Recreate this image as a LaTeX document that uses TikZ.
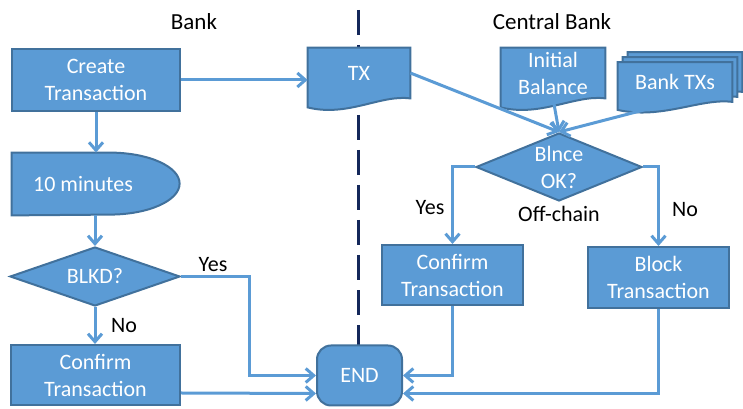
\documentclass[tikz,border=0pt]{standalone}
\usepackage{fontspec}
\setmainfont{Carlito}
\usetikzlibrary{positioning, arrows.meta, shapes.geometric, calc}
\pgfdeclarelayer{background}
\pgfsetlayers{background,main}
\definecolor{boxblue}{HTML}{5B9BD5}
\definecolor{boxedge}{HTML}{41719C}
\definecolor{navyline}{HTML}{14285A}

\begin{document}
\begin{tikzpicture}[
  x=0.5bp, y=-0.5bp,
  every node/.style={font=\fontsize{11bp}{13.5bp}\selectfont},
  proc/.style={draw=boxedge, fill=boxblue, line width=1bp, text=white, align=center, inner sep=0pt},
  decision/.style={diamond, draw=boxedge, fill=boxblue, line width=1bp, text=white, align=center, inner sep=0pt},
  term/.style={proc, rounded corners=7bp},
  doc/.style={text=white, align=center, inner sep=0pt},
  docline/.style={draw=boxedge, fill=boxblue, line width=1bp},
  flow/.style={-{Straight Barb[length=4bp, width=7bp]}, draw=boxblue, line width=1.5bp},
  lbl/.style={text=black, inner sep=1bp},
  divider/.style={draw=navyline, line width=1.5bp, dash pattern=on 12.5bp off 5bp}
]
\useasboundingbox (0,0) rectangle (743,409);

% Headers
\node[lbl, font=\fontsize{11.5bp}{14bp}\selectfont] (bankhead) at (194,22) {Bank};
\node[lbl, font=\fontsize{11.5bp}{14bp}\selectfont] (cbhead) at (552,22) {Central Bank};
\coordinate (divtop) at (358,10);
\coordinate (divbot) at (358,345);

% Bank nodes
\node[proc, minimum width=84bp, minimum height=31bp] (create) at (96,80) {Create\\Transaction};
\node[doc, minimum width=71bp, minimum height=31bp] (wait) at (83,184) {10 minutes};
\node[decision, aspect=2.9, minimum width=85bp, minimum height=29.5bp] (blkd) at (95,276.5) {BLKD?};
\node[proc, minimum width=84.5bp, minimum height=30bp] (confirmL) at (95.5,375) {Confirm\\Transaction};
\node[term, minimum width=42.5bp, minimum height=30bp] (endnode) at (359.5,375.5) {END};

% Central bank nodes
\node[doc, minimum width=51bp, minimum height=25bp] (tx) at (359,73) {TX};
\node[doc, minimum width=52bp, minimum height=25bp] (initbal) at (553,73) {Initial\\Balance};
\node[doc, minimum width=57bp, minimum height=19.5bp] (banktx) at (675,82) {Bank TXs};
\node[decision, aspect=2.44, minimum width=83bp, minimum height=34bp] (blnce) at (559,167) {Blnce\\OK?};
\node[proc, minimum width=70.5bp, minimum height=30bp] (confirmR) at (452.5,275) {Confirm\\Transaction};
\node[proc, minimum width=70.5bp, minimum height=30.5bp] (block) at (658.5,277.5) {Block\\Transaction};

% Outlines behind the text
\begin{pgfonlayer}{background}
\draw[divider] (divtop) -- (divbot);
\draw[docline] (wait.south west) -- (wait.north west) -- ++(49bp,0)
  arc[start angle=90, end angle=-90, x radius=35bp, y radius=15.5bp] -- cycle;
\foreach \n in {tx, initbal}
  \draw[docline] (\n.north west) -- (\n.north east) -- (\n.south east)
    .. controls +(-15bp,2bp) and +(20bp,-5bp) .. ([yshift=-4.5bp]\n.south west) -- cycle;
\foreach \o in {5, 2.5, 0}
  \draw[docline] ([shift={(\o bp,\o bp)}]banktx.north west) -- ([shift={(\o bp,\o bp)}]banktx.north east)
    -- ([shift={(\o bp,\o bp)}]banktx.south east)
    .. controls +(-16bp,2bp) and +(22bp,-5bp) .. ([shift={(\o bp,\o bp-4bp)}]banktx.south west) -- cycle;
\end{pgfonlayer}

% Arrows
\draw[flow] (create.east) -- (create.east -| tx.west);
\draw[flow] (create.south) -- (create.south |- wait.north);
\draw[flow] (wait.south -| blkd.north) -- (blkd.north);
\draw[flow] (blkd.south) -- (blkd.south |- confirmL.north);
\draw[flow] (blkd.east) -- ++(34bp,0) |- (endnode.west);
\draw[flow] ([yshift=-9bp]confirmL.east) -- ([yshift=-9bp]endnode.west);
\draw[flow] (tx.east) -- (blnce.north);
\draw[flow] (initbal.south) -- (blnce.north);
\draw[flow] (banktx.south) -- (blnce.north);
\draw[flow] (blnce.west) -| (confirmR.north);
\draw[flow] (blnce.east) -| (block.north);
\draw[flow] (confirmR.south) |- (endnode.east);
\draw[flow] (block.south) |- ([yshift=-9bp]endnode.east);

% Labels
\node[lbl] (yesL) at (213,265) {Yes};
\node[lbl] (noL) at (124,326) {No};
\node[lbl] (yesR) at (430,208) {Yes};
\node[lbl] (noR) at (685,210) {No};
\node[lbl, below=1bp of blnce] (offchain) {Off-chain};

\end{tikzpicture}
\end{document}
